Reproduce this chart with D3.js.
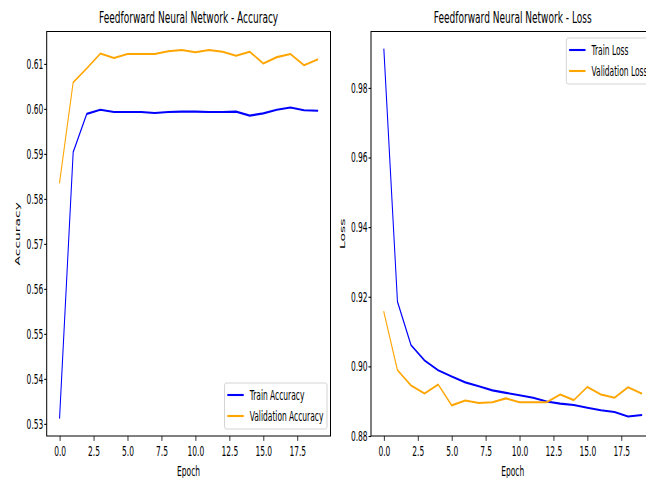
<!DOCTYPE html>
<html>
<head>
<meta charset="utf-8">
<script src="https://cdn.jsdelivr.net/npm/d3@7"></script>
<style>
  html, body { margin: 0; padding: 0; background: #fff; }
  svg { display: block; }
  text { font-family: "DejaVu Sans", sans-serif; fill: #000; }
</style>
</head>
<body>
<svg id="chart" width="646" height="478"></svg>
<script>
// ---- data ----
const epochs = [0, 1, 2, 3, 4, 5, 6, 7, 8, 9, 10, 11, 12, 13, 14, 15, 16, 17, 18, 19];
const trainAcc = [0.5314, 0.5904, 0.5989, 0.5998, 0.5993, 0.5993, 0.5993, 0.5991, 0.5993, 0.5994,
                  0.5994, 0.5993, 0.5993, 0.5994, 0.5985, 0.5990, 0.5998, 0.6003, 0.5997, 0.5996];
const valAcc = [0.5837, 0.6059, 0.6090, 0.6123, 0.6113, 0.6122, 0.6122, 0.6122, 0.6128, 0.6131,
                0.6126, 0.6131, 0.6127, 0.6118, 0.6127, 0.6101, 0.6115, 0.6122, 0.6097, 0.6110];
const trainLoss = [0.9910, 0.9186, 0.9061, 0.9017, 0.8989, 0.8971, 0.8954, 0.8943, 0.8931, 0.8924,
                   0.8917, 0.8910, 0.8899, 0.8893, 0.8889, 0.8881, 0.8874, 0.8869, 0.8856, 0.8860];
const valLoss = [0.9156, 0.8989, 0.8945, 0.8922, 0.8948, 0.8888, 0.8902, 0.8895, 0.8897, 0.8908,
                 0.8897, 0.8897, 0.8897, 0.8919, 0.8903, 0.8941, 0.8919, 0.8910, 0.8940, 0.8922];
const xTicks = [0, 2.5, 5, 7.5, 10, 12.5, 15, 17.5];
const accTicks = [0.53, 0.54, 0.55, 0.56, 0.57, 0.58, 0.59, 0.60, 0.61];
const lossTicks = [0.88, 0.90, 0.92, 0.94, 0.96, 0.98];
const accTitle = "Feedforward Neural Network - Accuracy";
const lossTitle = "Feedforward Neural Network - Loss";
const accLegend = ["Train Accuracy", "Validation Accuracy"];
const lossLegend = ["Train Loss", "Validation Loss"];
const xLabel = "Epoch";
const accLabel = "Accuracy";
const lossLabel = "Loss";

// ---- rendering ----
const SX = 0.54;   // horizontal text squeeze
const GX = 0.5;    // horizontal geometry squeeze (for stroke anisotropy)
const BLUE = "#0000ff", ORANGE = "#ffa500";
const svg = d3.select("#chart");
svg.append("rect").attr("width", 646).attr("height", 478).attr("fill", "#fff");

function label(g, x, y, str, size, anchor, rot) {
  return g.append("text")
    .attr("transform", `translate(${x},${y}) scale(${SX},1)` + (rot ? " rotate(-90)" : ""))
    .attr("text-anchor", anchor)
    .attr("font-size", size)
    .text(str);
}

function panel(cfg) {
  const top = 31.5, bottom = 436;
  const x = d3.scaleLinear().domain([-0.95, 19.95]).range([cfg.left, cfg.right]);
  const y = d3.scaleLinear().domain(cfg.yDomain).range([bottom, top]);
  const g = svg.append("g");

  // lines in a horizontally squeezed group
  const xv = x.copy().range(x.range().map(d => d / GX));
  const lg = g.append("g").attr("transform", `scale(${GX},1)`);
  const line = d3.line().x((d, i) => xv(epochs[i])).y(d => y(d));
  cfg.series.forEach(s => {
    lg.append("path").datum(s.values)
      .attr("d", line).attr("fill", "none")
      .attr("stroke", s.color).attr("stroke-width", 2.1)
      .attr("stroke-linejoin", "round").attr("stroke-linecap", "square");
  });

  // axes
  const ax = g.append("g").attr("transform", `translate(0,${bottom})`)
    .call(d3.axisBottom(x).tickValues(xTicks).tickFormat(d3.format(".1f")).tickSize(4.9).tickPadding(5));
  ax.select(".domain").remove();
  ax.selectAll(".tick line").attr("stroke", "#000").attr("stroke-width", 0.8);
  ax.selectAll(".tick text").attr("font-size", 13.9)
    .attr("transform", `scale(${SX},1)`).attr("font-family", "DejaVu Sans").attr("fill", "#000");

  const ay = g.append("g").attr("transform", `translate(${cfg.left},0)`)
    .call(d3.axisLeft(y).tickValues(cfg.yTicks).tickFormat(d3.format(".2f")).tickSize(2.5).tickPadding(2));
  ay.select(".domain").remove();
  ay.selectAll(".tick line").attr("stroke", "#000").attr("stroke-width", 1.1);
  ay.selectAll(".tick text").attr("font-size", 13.9)
    .attr("x", -3.4 / SX)
    .attr("transform", `scale(${SX},1)`).attr("font-family", "DejaVu Sans").attr("fill", "#000");

  // spines
  g.append("rect").attr("x", cfg.left).attr("y", top)
    .attr("width", cfg.right - cfg.left).attr("height", bottom - top)
    .attr("fill", "none").attr("stroke", "#000").attr("stroke-width", 1);

  // titles and labels
  const cx = (cfg.left + cfg.right) / 2;
  label(g, cx, 22.5, cfg.title, 16.7, "middle");
  label(g, cx, 475.5, xLabel, 13.9, "middle");
  label(g, cfg.ylabelX, (top + bottom) / 2, cfg.ylabel, 13.9, "middle", true);

  // legend
  const lgd = g.append("g");
  const texts = cfg.series.map(s => s.name);
  const tmp = lgd.append("text").attr("font-size", 13.9);
  let maxW = 0;
  texts.forEach(t => { tmp.text(t); maxW = Math.max(maxW, tmp.node().getComputedTextLength()); });
  tmp.remove();
  const boxW = 2.8 + 16.4 + 6 + maxW * SX + 3.6;
  const boxH = 46;
  const bx = cfg.right - 3.5 - boxW;
  const by = cfg.legendLoc === "lower right" ? bottom - 7 - boxH : top + 6.5;
  lgd.append("rect").attr("x", bx).attr("y", by).attr("width", boxW).attr("height", boxH)
    .attr("rx", 1.6).attr("ry", 2.8)
    .attr("fill", "#fff").attr("fill-opacity", 0.8)
    .attr("stroke", "#d4d4d4").attr("stroke-width", 1);
  cfg.series.forEach((s, i) => {
    const ry = by + 12 + i * 21;
    lgd.append("line").attr("x1", bx + 2.8).attr("x2", bx + 2.8 + 16.4)
      .attr("y1", ry).attr("y2", ry)
      .attr("stroke", s.color).attr("stroke-width", 2.1);
    label(lgd, bx + 2.8 + 16.4 + 6, ry + 5, s.name, 13.9, "start");
  });
}

panel({
  left: 46.7, right: 330.5,
  yDomain: [0.5273, 0.6172], yTicks: accTicks,
  title: accTitle, ylabel: accLabel, ylabelX: 19.5,
  legendLoc: "lower right",
  series: [
    { name: accLegend[0], values: trainAcc, color: BLUE },
    { name: accLegend[1], values: valAcc, color: ORANGE }
  ]
});

panel({
  left: 371, right: 654.5,
  yDomain: [0.8800, 0.9962], yTicks: lossTicks,
  title: lossTitle, ylabel: lossLabel, ylabelX: 345,
  legendLoc: "upper right",
  series: [
    { name: lossLegend[0], values: trainLoss, color: BLUE },
    { name: lossLegend[1], values: valLoss, color: ORANGE }
  ]
});
</script>
</body>
</html>
